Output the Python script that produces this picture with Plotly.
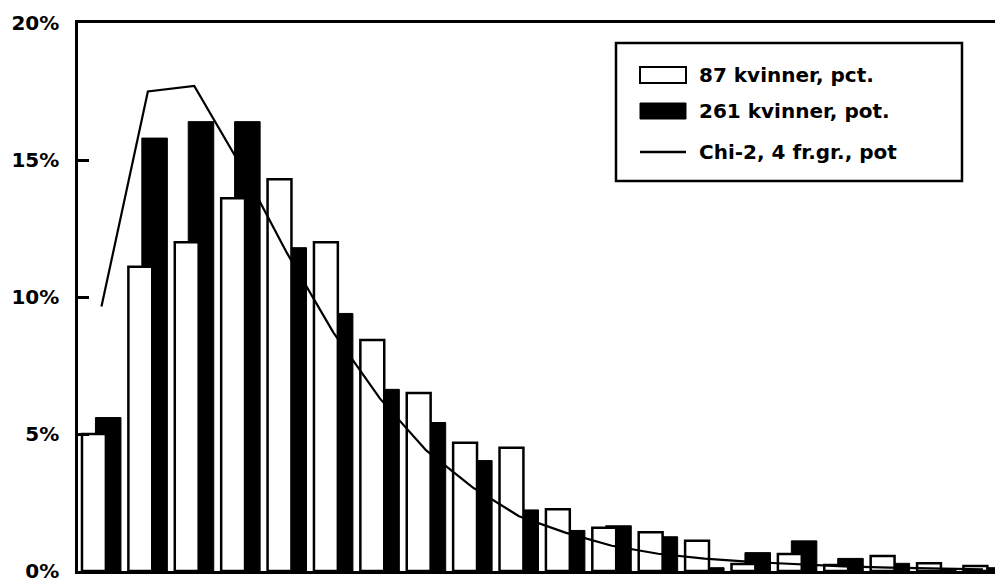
import plotly.graph_objects as go

# ---- data ----
groups = list(range(20))
women_87 = [5.0, 11.1, 12.0, 13.6, 14.3, 12.0, 8.43, 6.5, 4.68, 4.5,
            2.25, 1.58, 1.41, 1.1, 0.26, 0.62, 0.22, 0.55, 0.28, 0.18]
women_261 = [5.6, 15.8, 16.4, 16.4, 11.8, 9.4, 6.63, 5.42, 4.03, 2.23,
             1.48, 1.65, 1.25, 0.12, 0.67, 1.1, 0.46, 0.28, 0.08, 0.12]
chi2_fit = [9.65, 17.5, 17.7, 14.8, 11.6, 8.7, 6.3, 4.4, 3.05, 2.0,
            1.4, 0.92, 0.63, 0.45, 0.33, 0.24, 0.17, 0.12, 0.08, 0.06]
y_ticks = [0, 5, 10, 15, 20]
y_tick_labels = ["0%", "5%", "10%", "15%", "20%"]
legend_labels = ["87 kvinner, pct.", "261 kvinner, pot.", "Chi-2, 4 fr.gr., pot"]

W, H = 995, 585
L, R, T, B = 78, 0, 23, 14
PW, PH = W - L - R, H - T - B

def px(x):  # page pixel -> paper x
    return (x - L) / PW

def py(y):  # page pixel -> paper y
    return (H - B - y) / PH

FONT = "DejaVu Sans"

fig = go.Figure()
# black bars (behind)
fig.add_trace(go.Bar(
    x=groups, y=women_261, name=legend_labels[1],
    offset=-0.13, width=0.55,
    marker=dict(color="black", line=dict(color="black", width=1)),
    showlegend=False,
))
# white bars (in front)
fig.add_trace(go.Bar(
    x=groups, y=women_87, name=legend_labels[0],
    offset=-0.42, width=0.515,
    marker=dict(color="white", line=dict(color="black", width=2.5)),
    showlegend=False,
))
# chi-2 line
fig.add_trace(go.Scatter(
    x=groups, y=chi2_fit, name=legend_labels[2], mode="lines",
    line=dict(color="black", width=2.2),
    showlegend=False,
))

shapes = []
annotations = []
# legend box
shapes.append(dict(type="rect", xref="paper", yref="paper",
                   x0=px(616), x1=px(962), y0=py(181), y1=py(43),
                   line=dict(color="black", width=2.5), fillcolor="white",
                   layer="above"))
rows = [75, 111, 152]
shapes.append(dict(type="rect", xref="paper", yref="paper",
                   x0=px(640), x1=px(686), y0=py(rows[0] + 8), y1=py(rows[0] - 8),
                   line=dict(color="black", width=2), fillcolor="white", layer="above"))
shapes.append(dict(type="rect", xref="paper", yref="paper",
                   x0=px(640), x1=px(686), y0=py(rows[1] + 8), y1=py(rows[1] - 8),
                   line=dict(color="black", width=1), fillcolor="black", layer="above"))
shapes.append(dict(type="line", xref="paper", yref="paper",
                   x0=px(640), x1=px(686), y0=py(rows[2]), y1=py(rows[2]),
                   line=dict(color="black", width=2.5), layer="above"))
for lab, r in zip(legend_labels, rows):
    annotations.append(dict(
        text="<b>%s</b>" % lab, xref="paper", yref="paper",
        x=px(697), y=py(r), xanchor="left", yanchor="middle",
        showarrow=False, font=dict(family=FONT, size=20, color="black"),
    ))

fig.update_layout(
    width=W, height=H,
    margin=dict(l=L, r=R, t=T, b=B, pad=0, autoexpand=False),
    paper_bgcolor="white", plot_bgcolor="white",
    barmode="overlay",
    shapes=shapes, annotations=annotations,
    xaxis=dict(range=[-0.506, 19.26], showgrid=False, zeroline=False,
               showline=True, linecolor="black", linewidth=2.5, mirror=True,
               showticklabels=False, ticks=""),
    yaxis=dict(range=[0, 20], showgrid=False, zeroline=False,
               showline=True, linecolor="black", linewidth=2.5,
               tickvals=y_ticks, ticktext=["<b>%s</b>" % t for t in y_tick_labels],
               ticks="inside", ticklen=11, tickwidth=2.5, tickcolor="black",
               ticklabelstandoff=12,
               tickfont=dict(family=FONT, size=20, color="black")),
)

fig.write_html(
    "out.html",
    config={"displayModeBar": False},
    post_script="document.body.style.margin='0px';document.body.style.overflow='hidden';",
)
